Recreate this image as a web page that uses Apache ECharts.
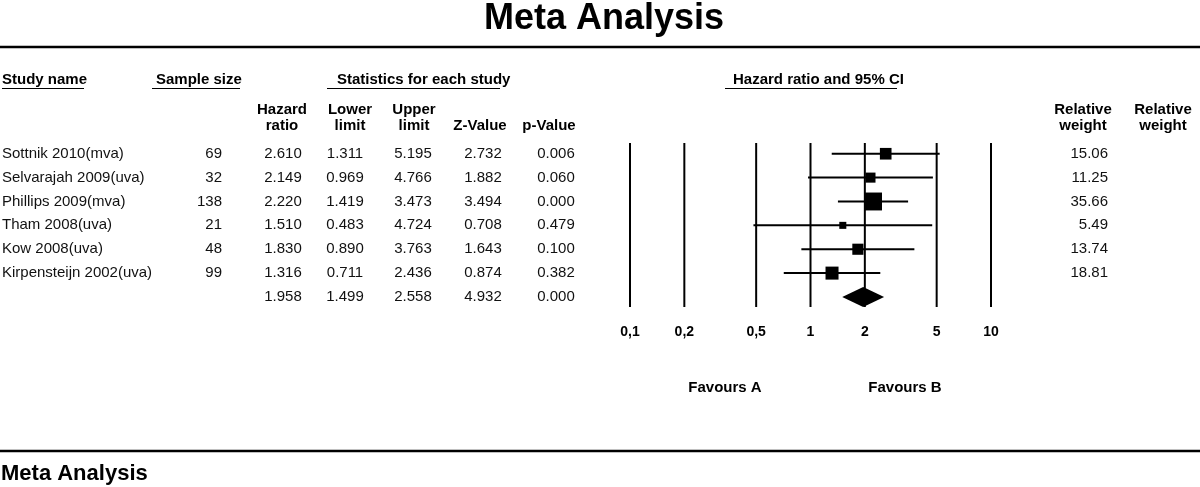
<!DOCTYPE html>
<html>
<head>
<meta charset="utf-8">
<script src="https://cdn.jsdelivr.net/npm/echarts@6/dist/echarts.min.js"></script>
<style>
html,body{margin:0;padding:0;background:#fff;}
#chart{width:1200px;height:487px;}
</style>
</head>
<body>
<div id="chart"></div>
<script>
// ---------- data ----------
const studies = ['Sottnik 2010(mva)', 'Selvarajah 2009(uva)', 'Phillips 2009(mva)', 'Tham 2008(uva)', 'Kow 2008(uva)', 'Kirpensteijn 2002(uva)'];
const sampleSize = [69, 32, 138, 21, 48, 99];
const hazardRatio = [2.610, 2.149, 2.220, 1.510, 1.830, 1.316];
const lowerLimit = [1.311, 0.969, 1.419, 0.483, 0.890, 0.711];
const upperLimit = [5.195, 4.766, 3.473, 4.724, 3.763, 2.436];
const zValue = [2.732, 1.882, 3.494, 0.708, 1.643, 0.874];
const pValue = [0.006, 0.060, 0.000, 0.479, 0.100, 0.382];
const relativeWeight = [15.06, 11.25, 35.66, 5.49, 13.74, 18.81];
// pooled: hazard ratio, lower, upper, z, p
const pooled = [1.958, 1.499, 2.558, 4.932, 0.000];
const tickValues = [0.1, 0.2, 0.5, 1, 2, 5, 10];
const tickLabels = ['0,1', '0,2', '0,5', '1', '2', '5', '10'];

// ---------- layout ----------
const FF = '"Liberation Sans", Arial, Helvetica, sans-serif';
const BODY = '15px ' + FF;
const BOLD = 'bold 15px ' + FF;
const pooledRow = studies.length;

// table cells (column x positions are layout, values come from arrays)
const cells = [];
const cols = {name: 2, n: 222, hr: 283, lo: 345, up: 413, z: 483, p: 556, w: 1108};
studies.forEach((s, i) => {
  cells.push({x: cols.name, row: i, text: s, align: 'left'});
  cells.push({x: cols.n, row: i, text: String(sampleSize[i]), align: 'right'});
  cells.push({x: cols.hr, row: i, text: hazardRatio[i].toFixed(3), align: 'center'});
  cells.push({x: cols.lo, row: i, text: lowerLimit[i].toFixed(3), align: 'center'});
  cells.push({x: cols.up, row: i, text: upperLimit[i].toFixed(3), align: 'center'});
  cells.push({x: cols.z, row: i, text: zValue[i].toFixed(3), align: 'center'});
  cells.push({x: cols.p, row: i, text: pValue[i].toFixed(3), align: 'center'});
  cells.push({x: cols.w, row: i, text: relativeWeight[i].toFixed(2), align: 'right'});
});
[cols.hr, cols.lo, cols.up, cols.z, cols.p].forEach((cx, k) => {
  cells.push({x: cx, row: pooledRow, text: pooled[k].toFixed(3), align: 'center'});
});

function txt(text, x, y, font, align) {
  return {
    type: 'text', x: x, y: y, silent: true,
    style: {text: text, font: font, fill: '#000', align: align || 'left', textAlign: align || 'left',
            verticalAlign: 'middle', textVerticalAlign: 'middle'}
  };
}
function hline(x1, x2, y, w) {
  return {type: 'line', silent: true, shape: {x1: x1, y1: y, x2: x2, y2: y},
          style: {stroke: '#000', lineWidth: w}};
}

const graphics = [
  txt('Meta Analysis', 604, 19.5, 'bold 36px ' + FF, 'center'),
  hline(0, 1200, 47, 2.5),
  txt('Study name', 2, 80, BOLD), hline(2, 84, 88.5, 1.2),
  txt('Sample size', 156, 80, BOLD), hline(152, 240, 88.5, 1.2),
  txt('Statistics for each study', 337, 80, BOLD), hline(327, 500, 88.5, 1.2),
  txt('Hazard ratio and 95% CI', 733, 80, BOLD), hline(725, 897, 88.5, 1.2),
  txt('Hazard', 282, 110, BOLD, 'center'), txt('ratio', 282, 126, BOLD, 'center'),
  txt('Lower', 350, 110, BOLD, 'center'), txt('limit', 350, 126, BOLD, 'center'),
  txt('Upper', 414, 110, BOLD, 'center'), txt('limit', 414, 126, BOLD, 'center'),
  txt('Z-Value', 480, 126, BOLD, 'center'),
  txt('p-Value', 549, 126, BOLD, 'center'),
  txt('Relative', 1083, 110, BOLD, 'center'), txt('weight', 1083, 126, BOLD, 'center'),
  txt('Relative', 1163, 110, BOLD, 'center'), txt('weight', 1163, 126, BOLD, 'center'),
  txt('Favours A', 725, 388, BOLD, 'center'),
  txt('Favours B', 905, 388, BOLD, 'center'),
  hline(0, 1200, 451, 2.5),
  txt('Meta Analysis', 1, 474, 'bold 22px ' + FF)
];

const chart = echarts.init(document.getElementById('chart'), null, {renderer: 'canvas'});

const yCommon = {type: 'value', inverse: true, min: -0.45, max: 6.42, show: false};

chart.setOption({
  animation: false,
  backgroundColor: '#fff',
  textStyle: {fontFamily: FF},
  grid: [
    {left: 630, width: 361, top: 143, height: 164},
    {left: 0, width: 1200, top: 143, height: 164}
  ],
  xAxis: [
    {type: 'log', logBase: 10, min: 0.1, max: 10, show: false, gridIndex: 0},
    {type: 'value', min: 0, max: 1200, show: false, gridIndex: 1}
  ],
  yAxis: [
    Object.assign({gridIndex: 0}, yCommon),
    Object.assign({gridIndex: 1}, yCommon)
  ],
  graphic: graphics,
  series: [
    // reference vertical lines
    {
      type: 'custom', xAxisIndex: 0, yAxisIndex: 0, z: 1,
      data: tickValues.map(v => [v, 0]),
      renderItem: function (params, api) {
        const p = api.coord([api.value(0), 0]);
        const cs = params.coordSys;
        return {type: 'line', shape: {x1: p[0], y1: cs.y, x2: p[0], y2: cs.y + cs.height},
                style: {stroke: '#000', lineWidth: 2}};
      }
    },
    // axis tick labels
    {
      type: 'custom', xAxisIndex: 0, yAxisIndex: 0, z: 1,
      data: tickValues.map(v => [v, 0]),
      renderItem: function (params, api) {
        const p = api.coord([api.value(0), 0]);
        return {type: 'text', x: p[0], y: 332,
                style: {text: tickLabels[params.dataIndex], font: 'bold 14px ' + FF, fill: '#000',
                        align: 'center', textAlign: 'center', verticalAlign: 'middle', textVerticalAlign: 'middle'}};
      }
    },
    // confidence interval lines
    {
      type: 'custom', xAxisIndex: 0, yAxisIndex: 0, z: 2,
      data: studies.map((s, i) => [lowerLimit[i], upperLimit[i], i]),
      encode: {x: [0, 1], y: 2},
      renderItem: function (params, api) {
        const a = api.coord([api.value(0), api.value(2)]);
        const b = api.coord([api.value(1), api.value(2)]);
        return {type: 'line', shape: {x1: a[0], y1: a[1], x2: b[0], y2: b[1]},
                style: {stroke: '#000', lineWidth: 2}};
      }
    },
    // study point estimates
    {
      type: 'scatter', xAxisIndex: 0, yAxisIndex: 0, z: 3,
      symbol: 'rect',
      data: studies.map((s, i) => [hazardRatio[i], i, relativeWeight[i]]),
      symbolSize: function (val) { return 3 * Math.sqrt(val[2]); },
      itemStyle: {color: '#000', opacity: 1},
      emphasis: {disabled: true}
    },
    // pooled diamond
    {
      type: 'custom', xAxisIndex: 0, yAxisIndex: 0, z: 3,
      data: [[pooled[1], pooled[0], pooled[2], pooledRow]],
      encode: {x: [0, 1, 2], y: 3},
      renderItem: function (params, api) {
        const row = api.value(3);
        const l = api.coord([api.value(0), row]);
        const c = api.coord([api.value(1), row]);
        const r = api.coord([api.value(2), row]);
        return {type: 'polygon',
                shape: {points: [[l[0], l[1]], [c[0], c[1] - 10], [r[0], r[1]], [c[0], c[1] + 10]]},
                style: {fill: '#000'}};
      }
    },
    // table text
    {
      type: 'custom', xAxisIndex: 1, yAxisIndex: 1, z: 4,
      data: cells.map(c => [c.x, c.row]),
      renderItem: function (params, api) {
        const c = cells[params.dataIndex];
        const p = api.coord([api.value(0), api.value(1)]);
        return {type: 'text', x: p[0], y: p[1],
                style: {text: c.text, font: BODY, fill: '#111', align: c.align, textAlign: c.align,
                        verticalAlign: 'middle', textVerticalAlign: 'middle'}};
      }
    }
  ]
});
</script>
</body>
</html>
